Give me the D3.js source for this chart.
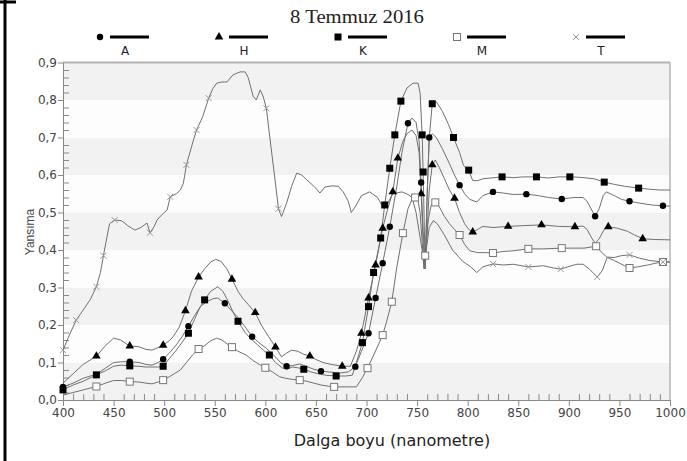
<!DOCTYPE html>
<html>
<head>
<meta charset="utf-8">
<script src="https://cdn.jsdelivr.net/npm/d3@7"></script>
<style>
  html, body { margin: 0; padding: 0; background: #fff; }
  svg { display: block; }
</style>
</head>
<body>
<svg id="chart" width="687" height="461"></svg>
<script>
// Reflectance spectra, 8 July 2016 — wavelength (nm) and reflectance per sample
const nmA = [400,410,420,433,442,450,458,466,475,482,488,494,499,505,512,518,524,530,536,542,548,553,560,566,573,580,587,595,601,606,610,615,621,627,634,640,648,655,662,674,682,689,695,702,709,716,723,730,735,741,745,749,752,754,756,758,760,762,765,769,775,782,787,792,797,802,809,815,825,835,845,858,870,880,893,905,914,918,922,926,930,934,937,945,952,960,970,982,993,1000];
const valA = [0.035,0.045,0.058,0.069,0.085,0.10,0.102,0.102,0.1,0.095,0.093,0.1,0.109,0.125,0.147,0.17,0.197,0.225,0.25,0.262,0.27,0.272,0.258,0.24,0.22,0.195,0.169,0.15,0.138,0.125,0.115,0.1,0.09,0.092,0.096,0.09,0.082,0.077,0.075,0.072,0.075,0.089,0.13,0.178,0.272,0.365,0.462,0.57,0.66,0.738,0.752,0.74,0.69,0.58,0.45,0.355,0.55,0.70,0.71,0.70,0.67,0.63,0.60,0.573,0.55,0.535,0.528,0.545,0.555,0.552,0.548,0.549,0.545,0.54,0.536,0.54,0.54,0.53,0.51,0.49,0.51,0.545,0.555,0.545,0.535,0.53,0.525,0.52,0.518,0.517];
const markA = [400,466,499,524,560,587,621,655,689,702,709,716,723,741,754,762,792,825,858,893,926,960,993];

const nmH = [400,410,420,433,442,450,457,466,475,482,488,494,499,505,509,515,521,527,534,540,546,551,556,562,567,573,578,583,590,596,603,610,616,621,626,632,638,644,650,657,665,676,684,690,695,702,709,716,721,726,731,736,740,745,749,752,754,756,758,760,762,765,768,772,777,782,787,792,797,801,805,810,815,825,840,855,873,890,906,914,918,922,926,930,935,939,948,958,965,973,985,1000];
const valH = [0.045,0.07,0.095,0.117,0.145,0.165,0.16,0.144,0.142,0.135,0.133,0.14,0.146,0.158,0.169,0.195,0.238,0.29,0.328,0.35,0.368,0.375,0.37,0.35,0.322,0.29,0.27,0.255,0.233,0.2,0.17,0.141,0.115,0.125,0.133,0.13,0.122,0.117,0.108,0.10,0.095,0.09,0.09,0.13,0.178,0.272,0.36,0.458,0.51,0.555,0.645,0.69,0.71,0.72,0.705,0.66,0.55,0.42,0.35,0.45,0.56,0.627,0.64,0.62,0.59,0.56,0.538,0.5,0.47,0.455,0.448,0.455,0.463,0.46,0.463,0.465,0.467,0.463,0.462,0.464,0.455,0.435,0.418,0.43,0.455,0.462,0.458,0.45,0.44,0.43,0.428,0.427];
const markH = [433,466,499,521,534,567,590,610,644,676,695,702,709,716,726,731,754,765,787,805,840,873,906,939,973];

const nmK = [400,410,420,433,442,450,458,466,475,482,488,494,499,505,512,518,524,530,535,540,546,553,558,563,568,573,580,586,592,598,604,610,617,622,627,632,638,645,652,660,670,679,686,690,696,702,707,714,718,723,728,734,740,746,751,753,755,756,758,760,762,765,769,775,781,786,792,796,801,805,810,815,823,834,845,855,868,880,890,901,910,918,925,935,945,955,969,980,990,1000];
const valK = [0.027,0.04,0.05,0.067,0.078,0.09,0.093,0.091,0.09,0.088,0.088,0.088,0.09,0.11,0.133,0.155,0.178,0.215,0.245,0.267,0.29,0.302,0.29,0.265,0.235,0.21,0.18,0.162,0.148,0.133,0.12,0.1,0.085,0.083,0.088,0.086,0.082,0.075,0.07,0.066,0.064,0.064,0.066,0.1,0.153,0.249,0.34,0.432,0.52,0.618,0.707,0.797,0.832,0.845,0.845,0.818,0.707,0.608,0.35,0.55,0.698,0.79,0.795,0.77,0.735,0.70,0.66,0.625,0.613,0.585,0.585,0.59,0.592,0.595,0.593,0.595,0.595,0.592,0.595,0.595,0.594,0.592,0.59,0.581,0.575,0.57,0.565,0.562,0.56,0.56];
const markK = [400,433,466,499,524,540,573,604,638,670,696,702,707,714,718,723,728,734,755,756,765,786,801,834,868,901,935,969];

const nmM = [400,410,420,433,442,450,458,466,475,482,488,494,499,505,510,516,522,528,534,540,546,552,557,562,567,573,581,588,594,600,607,614,620,627,634,641,648,655,662,668,680,690,696,701,708,716,720,725,730,736,741,745,748,751,753,755,757,759,761,764,768,772,777,782,787,792,797,802,810,818,825,835,845,860,875,893,905,915,922,927,932,938,944,950,955,960,968,978,986,993,1000];
const valM = [0.013,0.02,0.027,0.036,0.045,0.052,0.052,0.049,0.048,0.045,0.043,0.048,0.053,0.062,0.07,0.08,0.1,0.12,0.136,0.145,0.158,0.165,0.16,0.15,0.141,0.13,0.12,0.105,0.095,0.086,0.075,0.062,0.058,0.055,0.053,0.05,0.045,0.04,0.037,0.035,0.035,0.035,0.06,0.085,0.125,0.173,0.21,0.262,0.355,0.445,0.51,0.535,0.54,0.53,0.50,0.42,0.35,0.42,0.48,0.52,0.527,0.515,0.49,0.47,0.455,0.44,0.415,0.398,0.393,0.393,0.392,0.396,0.398,0.403,0.403,0.405,0.405,0.405,0.408,0.41,0.395,0.38,0.373,0.365,0.358,0.352,0.355,0.36,0.365,0.368,0.368];
const markM = [433,466,499,534,567,600,634,668,701,716,725,736,748,758,768,792,825,860,893,927,960,993];

const nmT = [400,405,413,420,427,433,437,441,446,451,458,464,471,477,483,486,490,493,498,503,506,512,516,519,522,527,532,538,544,548,552,557,562,568,575,580,583,588,591,595,598,601,605,609,613,616,621,626,631,636,641,648,654,659,666,672,677,682,685,690,695,703,711,716,720,726,735,741,745,749,752,755,757,759,762,766,770,777,785,795,803,809,815,825,835,845,860,875,885,892,900,908,914,920,928,933,938,945,952,960,970,980,993,1000];
const valT = [0.133,0.165,0.213,0.24,0.268,0.302,0.34,0.40,0.47,0.48,0.478,0.465,0.453,0.46,0.472,0.446,0.462,0.48,0.495,0.507,0.542,0.55,0.56,0.578,0.627,0.675,0.72,0.755,0.805,0.83,0.845,0.848,0.848,0.867,0.875,0.875,0.86,0.81,0.80,0.827,0.808,0.778,0.688,0.60,0.51,0.489,0.525,0.57,0.605,0.60,0.587,0.57,0.552,0.568,0.571,0.57,0.555,0.53,0.50,0.52,0.545,0.555,0.54,0.515,0.52,0.55,0.555,0.548,0.54,0.50,0.45,0.40,0.35,0.40,0.46,0.478,0.47,0.44,0.40,0.37,0.355,0.34,0.355,0.363,0.36,0.362,0.355,0.358,0.352,0.349,0.356,0.362,0.362,0.35,0.328,0.345,0.381,0.38,0.385,0.387,0.378,0.372,0.368,0.368];
const markT = [400,413,433,440,451,486,506,522,532,544,601,613,825,860,892,928,960,993];

const seriesNames = ["A", "H", "K", "M", "T"];
const xTicks = [400,450,500,550,600,650,700,750,800,850,900,950,1000];
const yTicks = [0,0.1,0.2,0.3,0.4,0.5,0.6,0.7,0.8,0.9];
const titleText = "8 Temmuz 2016";
const xTitle = "Dalga boyu (nanometre)";
const yTitle = "Yansıma";

const series = [
  { name: "A", nm: nmA, val: valA, marks: markA, symbol: "circle" },
  { name: "H", nm: nmH, val: valH, marks: markH, symbol: "triangle" },
  { name: "K", nm: nmK, val: valK, marks: markK, symbol: "square" },
  { name: "M", nm: nmM, val: valM, marks: markM, symbol: "open" },
  { name: "T", nm: nmT, val: valT, marks: markT, symbol: "cross" }
];

const svg = d3.select("#chart");
const plotL = 63, plotR = 670, plotT = 62.5, plotB = 400;
const x = d3.scaleLinear().domain([400, 1000]).range([plotL, plotR]);
const y = d3.scaleLinear().domain([0, 0.9]).range([plotB, plotT]);
const sans = "'Liberation Sans', Arial, sans-serif";
const deja = "'DejaVu Sans', Verdana, sans-serif";

// outer frame
svg.append("line").attr("x1", 5).attr("x2", 5).attr("y1", 0).attr("y2", 461)
  .attr("stroke", "#000").attr("stroke-width", 3);
svg.append("line").attr("x1", 0).attr("x2", 16).attr("y1", 2).attr("y2", 2)
  .attr("stroke", "#000").attr("stroke-width", 3);

// alternating horizontal bands
const bands = d3.range(0, 9).map(i => i / 10);
svg.append("g").selectAll("rect").data(bands).join("rect")
  .attr("x", plotL).attr("width", plotR - plotL)
  .attr("y", d => y(d + 0.1)).attr("height", d => y(d) - y(d + 0.1))
  .attr("fill", (d, i) => i % 2 === 0 ? "#f2f2f2" : "#fdfdfd");

// plot borders (top and right)
svg.append("line").attr("x1", plotL).attr("x2", plotR).attr("y1", plotT).attr("y2", plotT)
  .attr("stroke", "#b4b4b4").attr("stroke-width", 2);
svg.append("line").attr("x1", plotR).attr("x2", plotR).attr("y1", plotT).attr("y2", plotB)
  .attr("stroke", "#b4b4b4").attr("stroke-width", 1.5);

const fmt = d => d3.format(".1f")(d).replace(".", ",");

// x axis: major ticks down, minor ticks up
const gx = svg.append("g").attr("transform", `translate(0,${plotB})`);
gx.call(d3.axisBottom(x).tickValues(xTicks).tickSize(6).tickSizeOuter(0).tickPadding(2).tickFormat(d3.format("d")));
gx.append("g").call(d3.axisBottom(x).tickValues(d3.range(410, 1000, 10).filter(v => v % 50 !== 0))
  .tickSize(-6).tickSizeOuter(0).tickFormat(""));
gx.selectAll("path.domain").attr("stroke", "#888");
gx.selectAll("line").attr("stroke", "#888");
gx.selectAll("text").attr("font-family", deja).attr("font-size", 12).attr("fill", "#444");

// y axis: major ticks left, minor ticks right
const gy = svg.append("g").attr("transform", `translate(${plotL},0)`);
gy.call(d3.axisLeft(y).tickValues(yTicks).tickSize(5).tickSizeOuter(0).tickPadding(1).tickFormat(fmt));
gy.append("g").call(d3.axisLeft(y).tickValues(d3.range(1, 45).map(i => i * 0.02).filter(v => Math.abs(v * 10 - Math.round(v * 10)) > 1e-6))
  .tickSize(-6).tickSizeOuter(0).tickFormat(""));
gy.selectAll("path.domain").attr("stroke", "#888");
gy.selectAll("line").attr("stroke", "#888");
gy.selectAll("text").attr("font-family", deja).attr("font-size", 12).attr("fill", "#444");

// curves
const line = d3.line().x(d => x(d[0])).y(d => y(d[1]));
const curves = svg.append("g");
series.forEach(s => {
  const pts = s.nm.map((n, i) => [n, s.val[i]]);
  curves.append("path").datum(pts).attr("d", line)
    .attr("fill", "none").attr("stroke", "#707070").attr("stroke-width", 1);
});

// marker glyphs
function drawSymbol(g, type, cx, cy) {
  if (type === "circle") {
    g.append("circle").attr("cx", cx).attr("cy", cy).attr("r", 3.2).attr("fill", "#000");
  } else if (type === "triangle") {
    g.append("path").attr("d", d3.symbol(d3.symbolTriangle, 32)())
      .attr("transform", `translate(${cx},${cy})`).attr("fill", "#000");
  } else if (type === "square") {
    g.append("rect").attr("x", cx - 3.5).attr("y", cy - 3.5).attr("width", 7).attr("height", 7).attr("fill", "#000");
  } else if (type === "open") {
    g.append("rect").attr("x", cx - 3.5).attr("y", cy - 3.5).attr("width", 7).attr("height", 7)
      .attr("fill", "#fff").attr("stroke", "#777").attr("stroke-width", 1);
  } else {
    g.append("path").attr("d", `M${cx - 3},${cy - 3}L${cx + 3},${cy + 3}M${cx - 3},${cy + 3}L${cx + 3},${cy - 3}`)
      .attr("stroke", "#999").attr("stroke-width", 1).attr("fill", "none");
  }
}

// value of a series at a given wavelength (along its drawn polyline)
function valueAt(s, n) {
  const i = d3.bisectLeft(s.nm, n);
  if (i <= 0) return s.val[0];
  if (i >= s.nm.length) return s.val[s.nm.length - 1];
  const n0 = s.nm[i - 1], n1 = s.nm[i];
  const t = (n - n0) / (n1 - n0);
  return s.val[i - 1] + t * (s.val[i] - s.val[i - 1]);
}

const marks = svg.append("g");
series.forEach(s => {
  s.marks.forEach(n => drawSymbol(marks, s.symbol, x(n), y(valueAt(s, n))));
});

// legend
const legend = svg.append("g");
series.forEach((s, i) => {
  const x0 = 100 + i * 119;
  drawSymbol(legend, s.symbol, x0, 37);
  legend.append("line").attr("x1", x0 + 10).attr("x2", x0 + 49).attr("y1", 37).attr("y2", 37)
    .attr("stroke", "#000").attr("stroke-width", 3);
  legend.append("text").attr("x", x0 + 25).attr("y", 55).attr("text-anchor", "middle")
    .attr("font-family", deja).attr("font-size", 12).attr("fill", "#222").text(seriesNames[i]);
});

// titles
svg.append("text").attr("x", 357).attr("y", 23).attr("text-anchor", "middle")
  .attr("font-family", "'Liberation Serif', 'Times New Roman', serif").attr("font-size", 19)
  .attr("textLength", 134).attr("lengthAdjust", "spacingAndGlyphs")
  .attr("fill", "#222").text(titleText);
svg.append("text").attr("x", 392).attr("y", 446).attr("text-anchor", "middle")
  .attr("font-family", deja).attr("font-size", 16).attr("fill", "#222").text(xTitle);
svg.append("text").attr("transform", "translate(34,232) rotate(-90)").attr("text-anchor", "middle")
  .attr("font-family", sans).attr("font-size", 12).attr("fill", "#444").text(yTitle);
</script>
</body>
</html>
